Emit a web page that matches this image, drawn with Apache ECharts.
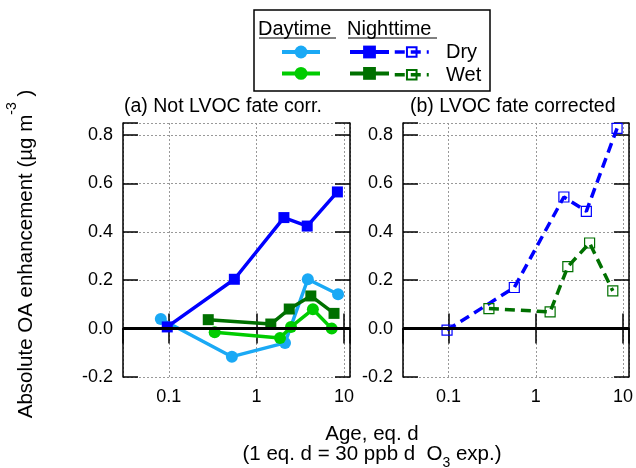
<!DOCTYPE html>
<html>
<head>
<meta charset="utf-8">
<script src="https://cdn.jsdelivr.net/npm/echarts@6/dist/echarts.min.js"></script>
<style>
  html, body { margin: 0; padding: 0; background: #fff; }
  #main { width: 636px; height: 468px; }
</style>
</head>
<body>
<div id="main"></div>
<script>
// ages (eq. d) and OA enhancement (ug m-3)
var ageDayDry = [0.081, 0.525, 2.12, 3.86, 8.55]
var oaDayDry = [0.040, -0.116, -0.059, 0.204, 0.142]
var ageNightDry = [0.096, 0.56, 2.06, 3.80, 8.4]
var oaNightDry = [0.007, 0.204, 0.459, 0.424, 0.565]
var ageNightWet = [0.282, 1.46, 2.37, 4.18, 7.69]
var oaNightWet = [0.037, 0.019, 0.081, 0.135, 0.063]
var ageDayWet = [0.334, 1.86, 2.48, 4.41, 7.24]
var oaDayWet = [-0.015, -0.039, 0.007, 0.080, 0.000]
// LVOC fate corrected (nighttime only)
var ageCorrDry = [0.096, 0.567, 2.10, 3.80, 8.55]
var oaCorrDry = [-0.006, 0.170, 0.544, 0.485, 0.828]
var ageCorrWet = [0.290, 1.46, 2.33, 4.14, 7.64]
var oaCorrWet = [0.083, 0.069, 0.256, 0.354, 0.156]

var xTickLabels = ['0.1', '1', '10']

var FONT = '"Liberation Sans", Arial, sans-serif'
var C_DAYDRY = '#1aa9f5'
var C_NIGHTDRY = '#0000ff'
var C_DAYWET = '#00cc00'
var C_NIGHTWET = '#007000'

function pairs(xs, ys) {
    return xs.map(function(x, i) { return [x, ys[i]] })
}

function xAxisFor(grid, pos) {
    var main = pos === 'bottom'
    return {
        type: 'log', logBase: 10, gridIndex: grid, position: pos,
        min: 0.03, max: 11.7,
        axisLine: { show: true, lineStyle: { color: '#000', width: 1.5 } },
        axisTick: { show: true, inside: true, length: 15, lineStyle: { color: '#000', width: 1.5 } },
        minorTick: { show: false },
        axisLabel: {
            show: main, margin: 11, fontSize: 18, color: '#000', fontFamily: FONT,
            showMinLabel: false, showMaxLabel: false,
            formatter: function(v) {
                var l = Math.log10(v)
                if (Math.abs(l - Math.round(l)) > 1e-6) return ''
                return xTickLabels[Math.round(l) + 1] || ''
            }
        },
        splitLine: { show: main, lineStyle: { color: '#999', width: 1, type: [2, 2] } }
    }
}

function yAxisFor(grid, pos) {
    var main = pos === 'left'
    return {
        type: 'value', gridIndex: grid, position: pos,
        min: -0.2, max: 0.85, interval: 0.2,
        axisLine: { show: true, lineStyle: { color: '#000', width: 1.5 } },
        axisTick: { show: true, inside: true, length: 15, lineStyle: { color: '#000', width: 1.5 } },
        axisLabel: {
            show: main, margin: 10, fontSize: 18, color: '#000', fontFamily: FONT,
            formatter: function(v) {
                if (Math.abs(v * 5 - Math.round(v * 5)) > 1e-6) return ''
                return v.toFixed(1)
            }
        },
        splitLine: { show: main, lineStyle: { color: '#999', width: 1, type: [2, 2] } }
    }
}

var zeroLine = {
    silent: true, symbol: ['none', 'none'],
    label: { show: false },
    lineStyle: { color: '#000', width: 3, type: 'solid' },
    data: [{ yAxis: 0 }]
}

function solid(name, xs, ys, color, symbol, size, withZero) {
    var s = {
        name: name, type: 'line', xAxisIndex: 0, yAxisIndex: 0,
        data: pairs(xs, ys),
        symbol: symbol, symbolSize: size, showSymbol: true,
        lineStyle: { color: color, width: 3.5 },
        itemStyle: { color: color },
        z: 3
    }
    if (withZero) s.markLine = zeroLine
    return s
}

function dashed(name, xs, ys, color, withZero) {
    var s = {
        name: name, type: 'line', xAxisIndex: 2, yAxisIndex: 2,
        data: pairs(xs, ys),
        symbol: 'rect', symbolSize: 10, showSymbol: true,
        lineStyle: { color: color, width: 3.5, type: [10, 6] },
        itemStyle: { color: 'rgba(255,255,255,0)', borderColor: color, borderWidth: 1.2 },
        z: 3
    }
    if (withZero) s.markLine = zeroLine
    return s
}

function legendCol(names, left, top, w, h, gap, lw) {
    return {
        data: names, orient: 'vertical', left: left, top: top, padding: 0,
        itemWidth: w, itemHeight: h, itemGap: gap, selectedMode: false,
        lineStyle: { width: lw },
        formatter: function() { return '' }
    }
}

var chart = echarts.init(document.getElementById('main'), null, { renderer: 'canvas' })

var option = {
    animation: false,
    backgroundColor: '#fff',
    textStyle: { fontFamily: FONT },
    title: [
        { text: '(a) Not LVOC fate corr.', left: 119, top: 92,
          textStyle: { fontSize: 19.5, fontWeight: 'normal', color: '#000', fontFamily: FONT } },
        { text: '(b) LVOC fate corrected', left: 405, top: 92,
          textStyle: { fontSize: 19.5, fontWeight: 'normal', color: '#000', fontFamily: FONT } }
    ],
    grid: [
        { left: 123, top: 123, width: 227, height: 254 },
        { left: 403, top: 123, width: 226, height: 254 }
    ],
    xAxis: [xAxisFor(0, 'bottom'), xAxisFor(0, 'top'), xAxisFor(1, 'bottom'), xAxisFor(1, 'top')],
    yAxis: [yAxisFor(0, 'left'), yAxisFor(0, 'right'), yAxisFor(1, 'left'), yAxisFor(1, 'right')],
    legend: [
        legendCol(['Daytime Dry', 'Daytime Wet'], 280, 44, 38, 16, 7, 4),
        legendCol(['Nighttime Dry', 'Nighttime Wet'], 348, 44, 39, 16, 7, 4),
        legendCol(['Corrected Dry', 'Corrected Wet'], 393, 46, 34, 12, 11, 3.5)
    ],
    series: [
        solid('Daytime Dry', ageDayDry, oaDayDry, C_DAYDRY, 'circle', 12, true),
        solid('Nighttime Dry', ageNightDry, oaNightDry, C_NIGHTDRY, 'rect', 11, false),
        solid('Nighttime Wet', ageNightWet, oaNightWet, C_NIGHTWET, 'rect', 11, false),
        solid('Daytime Wet', ageDayWet, oaDayWet, C_DAYWET, 'circle', 12, false),
        dashed('Corrected Dry', ageCorrDry, oaCorrDry, C_NIGHTDRY, true),
        dashed('Corrected Wet', ageCorrWet, oaCorrWet, C_NIGHTWET, false)
    ],
    graphic: [
        // legend frame and headings
        { type: 'rect', shape: { x: 254, y: 10, width: 236, height: 81 },
          style: { fill: 'none', stroke: '#000', lineWidth: 1.5 }, z: 0 },
        { type: 'text', x: 258, y: 29, style: { text: 'Daytime', font: '20px ' + FONT, fill: '#000', textVerticalAlign: 'middle' } },
        { type: 'line', shape: { x1: 259, y1: 38, x2: 336, y2: 38 }, style: { stroke: '#000', lineWidth: 1 } },
        { type: 'text', x: 347, y: 29, style: { text: 'Nighttime', font: '20px ' + FONT, fill: '#000', textVerticalAlign: 'middle' } },
        { type: 'line', shape: { x1: 348, y1: 38, x2: 437, y2: 38 }, style: { stroke: '#000', lineWidth: 1 } },
        { type: 'text', x: 446, y: 52, style: { text: 'Dry', font: '20px ' + FONT, fill: '#000', textVerticalAlign: 'middle' } },
        { type: 'text', x: 446, y: 75, style: { text: 'Wet', font: '20px ' + FONT, fill: '#000', textVerticalAlign: 'middle' } },
        // y axis title
        { type: 'text', x: 21, y: 254, rotation: Math.PI / 2,
          style: {
              text: '{a|Absolute OA enhancement (µg m}{s|-3}{a| )}',
              align: 'center', verticalAlign: 'middle', fill: '#000',
              rich: {
                  a: { fontSize: 20.5, fontFamily: FONT, lineHeight: 32, verticalAlign: 'bottom' },
                  s: { fontSize: 14, fontFamily: FONT, lineHeight: 15, verticalAlign: 'top' }
              }
          } },
        // x axis title
        { type: 'text', x: 372, y: 434,
          style: { text: 'Age, eq. d', font: '20.5px ' + FONT, fill: '#000', align: 'center', verticalAlign: 'middle' } },
        { type: 'text', x: 372, y: 457,
          style: {
              text: '{a|(1 eq. d = 30 ppb d  O}{b|3}{a| exp.)}',
              align: 'center', verticalAlign: 'middle', fill: '#000',
              rich: {
                  a: { fontSize: 20.5, fontFamily: FONT, lineHeight: 26, verticalAlign: 'top' },
                  b: { fontSize: 14, fontFamily: FONT, lineHeight: 15, verticalAlign: 'bottom' }
              }
          } }
    ]
}

chart.setOption(option)
</script>
</body>
</html>
